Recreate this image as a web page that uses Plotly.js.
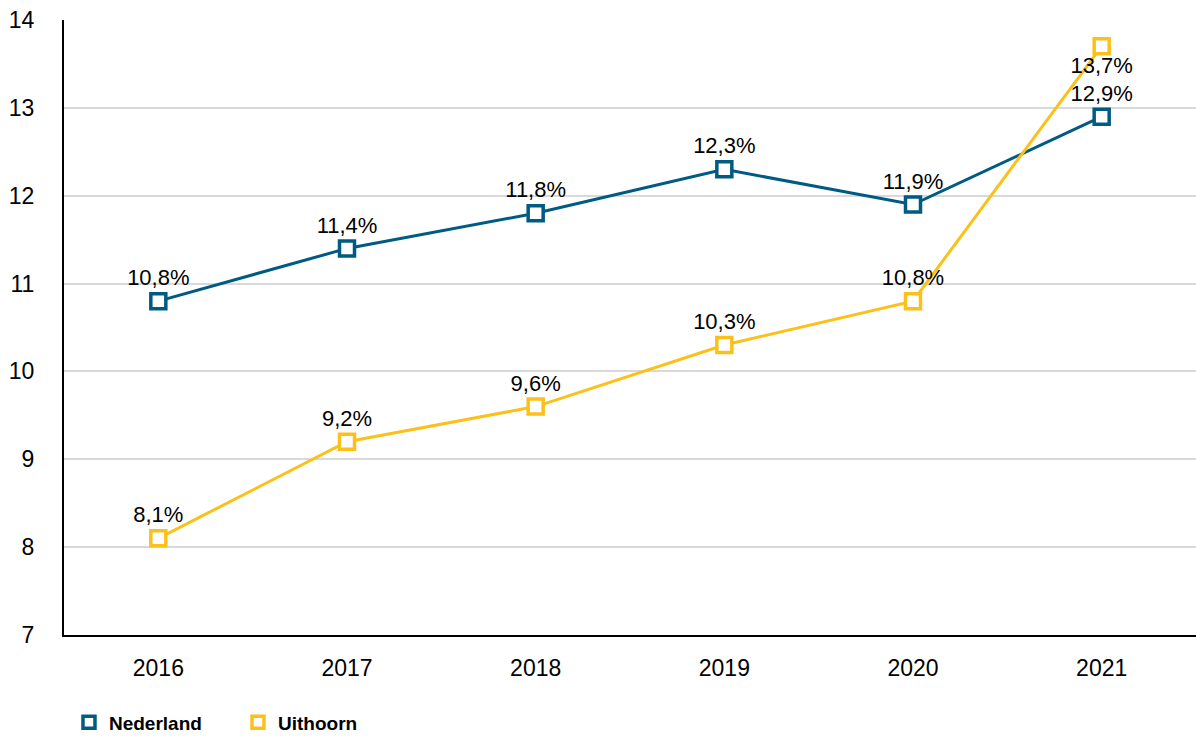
<!DOCTYPE html>
<html>
<head>
<meta charset="utf-8">
<script src="https://cdn.plot.ly/plotly-3.0.1.min.js"></script>
<style>html,body{margin:0;padding:0;background:#fff;}#chart{width:1196px;height:737px;}</style>
</head>
<body>
<div id="chart"></div>
<script>
var years = ['2016', '2017', '2018', '2019', '2020', '2021'];
var nederland = [10.8, 11.4, 11.8, 12.3, 11.9, 12.9];
var uithoorn = [8.1, 9.2, 9.6, 10.3, 10.8, 13.7];
var nederlandLabels = ['10,8%', '11,4%', '11,8%', '12,3%', '11,9%', '12,9%'];
var uithoornLabels = ['8,1%', '9,2%', '9,6%', '10,3%', '10,8%', '13,7%'];
var yTicks = [7, 8, 9, 10, 11, 12, 13, 14];

var blue = '#005b82';
var yellow = '#fbc11a';

function series(name, y, labels, color, positions) {
  return {
    type: 'scatter', mode: 'lines+markers+text', name: name,
    x: years, y: y, text: labels, textposition: positions,
    textfont: {family: 'Liberation Sans, Arial, sans-serif', size: 22, color: '#000'},
    line: {color: color, width: 3},
    marker: {symbol: 'square', size: 15, color: '#fff', line: {color: color, width: 3.5}},
    showlegend: false, cliponaxis: false, hoverinfo: 'x+y'
  };
}
function legendItem(name, color) {
  return {
    type: 'scatter', mode: 'markers', name: name, x: [null], y: [null],
    marker: {symbol: 'square', size: 12, color: '#fff', line: {color: color, width: 3.5}},
    showlegend: true
  };
}

var traces = [
  series('Nederland', nederland, nederlandLabels, blue, 'top center'),
  series('Uithoorn', uithoorn, uithoornLabels, yellow,
         ['top center', 'top center', 'top center', 'top center', 'top center', 'bottom center']),
  legendItem('<b>Nederland</b>', blue),
  legendItem('<b>Uithoorn</b>', yellow)
];

var layout = {
  width: 1196, height: 737,
  margin: {l: 64, r: 0, t: 20, b: 102, autoexpand: false},
  paper_bgcolor: '#fff', plot_bgcolor: '#fff',
  font: {family: 'Liberation Sans, Arial, sans-serif', size: 22, color: '#000'},
  xaxis: {
    type: 'category', categoryorder: 'array', categoryarray: years,
    range: [-0.5, 5.5], showgrid: false, zeroline: false,
    showline: true, linecolor: '#000', linewidth: 2,
    ticks: '', ticklabelstandoff: 11, automargin: false,
    tickfont: {size: 23, color: '#000'}
  },
  yaxis: {
    range: [7, 14], tickvals: yTicks, ticktext: yTicks.map(String),
    showgrid: true, gridcolor: '#d9d9d9', gridwidth: 2, zeroline: false,
    showline: true, linecolor: '#000', linewidth: 2,
    ticks: '', ticklabelstandoff: 23, automargin: false,
    tickfont: {size: 23, color: '#000'}
  },
  legend: {
    orientation: 'h', x: 0.0044, xanchor: 'left', y: -0.142, yanchor: 'middle',
    font: {size: 19, color: '#000'}, entrywidth: 124, entrywidthmode: 'pixels',
    itemclick: false, itemdoubleclick: false
  },
  showlegend: true
};

Plotly.newPlot('chart', traces, layout, {displayModeBar: false, staticPlot: true});
</script>
</body>
</html>
